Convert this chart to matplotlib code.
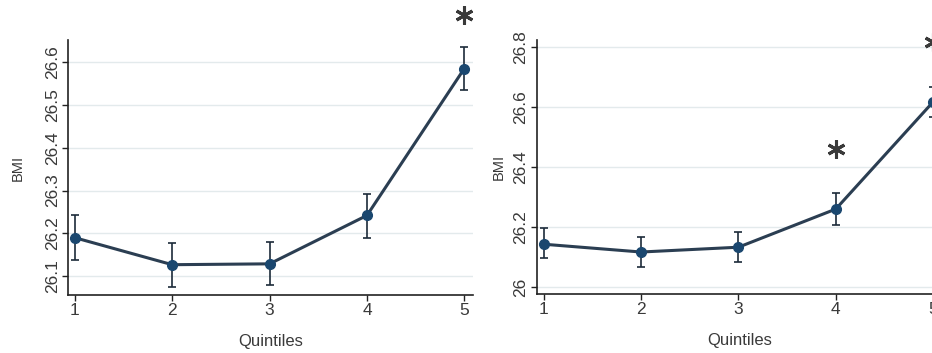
import numpy as np
import matplotlib.pyplot as plt

plt.rcParams['font.family'] = ['Liberation Sans', 'DejaVu Sans']

quintiles = [1, 2, 3, 4, 5]

# left panel: mean BMI with 95% CI
bmi_a = [26.19, 26.127, 26.129, 26.242, 26.585]
lo_a = [26.137, 26.074, 26.079, 26.190, 26.536]
hi_a = [26.242, 26.177, 26.179, 26.293, 26.636]
star_a = [5]

# right panel
bmi_b = [26.143, 26.117, 26.133, 26.26, 26.617]
lo_b = [26.097, 26.067, 26.083, 26.207, 26.567]
hi_b = [26.197, 26.167, 26.183, 26.313, 26.667]
star_b = [4, 5]

navy = '#1a476f'
txt = '#3a3a3a'

fig = plt.figure(figsize=(9.32, 3.53), dpi=100)
fig.patch.set_facecolor('white')


def panel(ax, y, lo, hi, stars, ylim, yticks, fmt, star_off, lab_x):
    y = np.array(y)
    err = [y - np.array(lo), np.array(hi) - y]
    ax.errorbar(quintiles, y, yerr=err, fmt='none', ecolor='#1c2b3a',
                elinewidth=1.2, capsize=3, capthick=1.2, zorder=3)
    ax.plot(quintiles, y, color='#2b3e52', lw=2.2, zorder=4,
            marker='o', ms=7, mfc=navy, mec=navy)
    # significance asterisks above the marked quintiles
    sq = np.array(stars)
    ax.plot(sq, y[sq - 1] + star_off, ls='none', marker=(6, 2, 0),
            ms=13, mew=2.2, color='#3a3a3a', zorder=5, clip_on=False)
    ax.set_xlim(0.93, 5.09)
    ax.set_ylim(*ylim)
    ax.set_xticks(quintiles)
    ax.set_yticks(yticks)
    ax.set_yticklabels([fmt.format(v) for v in yticks], rotation=90,
                       va='center')
    ax.grid(axis='y', color='#e3eaec', lw=1)
    ax.set_axisbelow(True)
    for s in ['top', 'right']:
        ax.spines[s].set_visible(False)
    for s in ['left', 'bottom']:
        ax.spines[s].set_color('#222222')
        ax.spines[s].set_linewidth(1.2)
    ax.tick_params(colors='#222222', labelcolor=txt, labelsize=12.5,
                   length=4, width=1, pad=2)
    ax.set_xlabel('Quintiles', fontsize=12, color=txt, labelpad=11)
    ax.set_ylabel('BMI', fontsize=10.5, color=txt)
    ax.yaxis.set_label_coords(lab_x, 0.5)


ax1 = fig.add_axes([0.073, 0.164, 0.4346, 0.722])
panel(ax1, bmi_a, lo_a, hi_a, star_a, (26.056, 26.651),
      [26.1, 26.2, 26.3, 26.4, 26.5, 26.6], '{:.1f}', 0.126, -0.106)

ax2 = fig.add_axes([0.576, 0.167, 0.4346, 0.7195])
panel(ax2, bmi_b, lo_b, hi_b, star_b, (25.977, 26.823),
      [26.0, 26.2, 26.4, 26.6, 26.8], '{:g}', 0.2, -0.076)

fig.savefig('out.png', dpi=100)
